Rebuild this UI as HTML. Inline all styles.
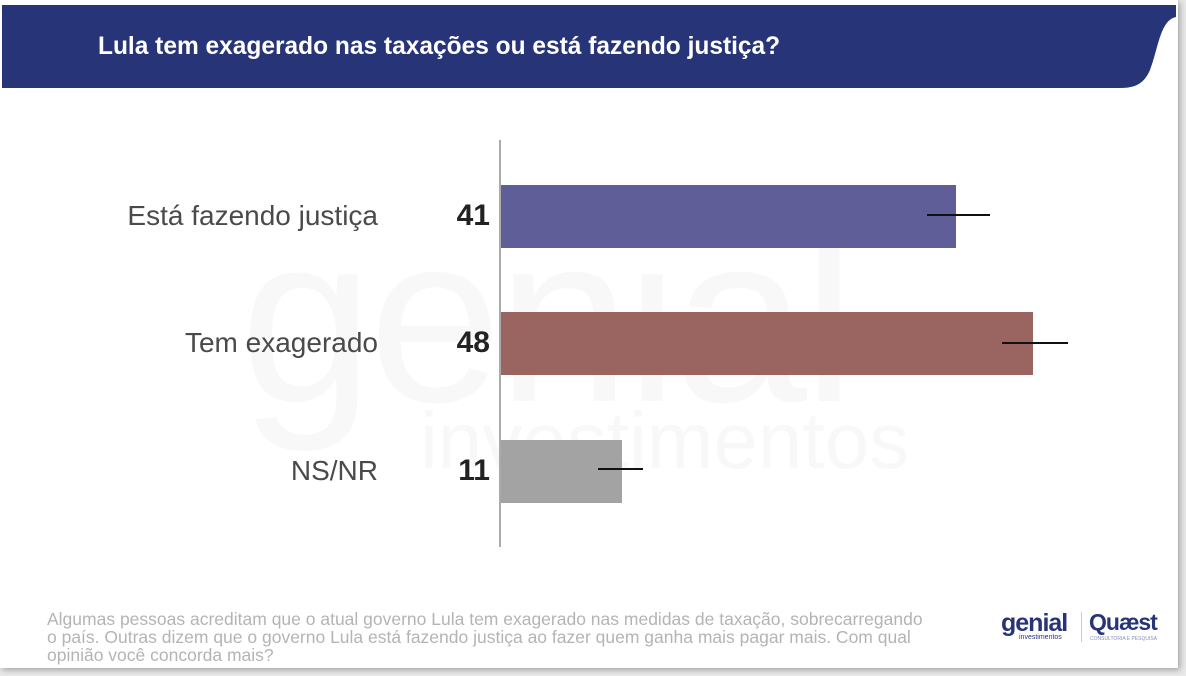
<!DOCTYPE html>
<html><head><meta charset="utf-8"><style>
body{margin:0;width:1186px;height:676px;background:#e9e9e9;position:relative;overflow:hidden;font-family:"Liberation Sans",sans-serif}
.page{position:absolute;left:0;top:0;width:1178px;height:668px;background:#fff;box-shadow:2px 2px 6px rgba(0,0,0,.3)}
.lab{position:absolute;font-size:28px;color:#4a4a4a;text-align:right;right:800px}
.val{position:absolute;font-size:30px;font-weight:bold;color:#222;right:688px}
.bar{position:absolute;left:501px;height:63px}
.eb{position:absolute;height:2px;background:#111}
</style></head><body>
<div class="page">
<svg width="1178" height="100" style="position:absolute;left:0;top:0">
<path d="M2 5 H1176 V17 C1160 20 1158 50 1150 70 C1144 84 1135 88 1120 88 H2 Z" fill="#273578"/>
</svg>
<div style="position:absolute;left:98px;top:32px;color:#fff;font-size:25px;font-weight:bold;transform:scaleX(0.98);transform-origin:left">Lula tem exagerado nas taxações ou está fazendo justiça?</div>
<div style="position:absolute;left:240px;top:180px;font-size:240px;color:#f8f8f8;letter-spacing:-5px">genial</div>
<div style="position:absolute;left:420px;top:395px;font-size:80px;color:#f8f8f8">investimentos</div>
<div style="position:absolute;left:499px;top:140px;width:2px;height:407px;background:#aaa"></div>
<div class="lab" style="top:200px">Está fazendo justiça</div>
<div class="lab" style="top:327px">Tem exagerado</div>
<div class="lab" style="top:455px">NS/NR</div>
<div class="val" style="top:199px">41</div>
<div class="val" style="top:326px">48</div>
<div class="val" style="top:454px">11</div>
<div class="bar" style="top:185px;width:455px;background:#5f5e99"></div>
<div class="bar" style="top:312px;width:532px;background:#9a6461"></div>
<div class="bar" style="top:440px;width:121px;background:#a3a3a3"></div>
<div class="eb" style="left:927px;width:63px;top:214px"></div>
<div class="eb" style="left:1002px;width:66px;top:342px"></div>
<div class="eb" style="left:598px;width:45px;top:468px"></div>
<div style="position:absolute;left:47px;top:610px;width:905px;font-size:17.5px;line-height:18px;color:#b4b4b4">Algumas pessoas acreditam que o atual governo Lula tem exagerado nas medidas de taxação, sobrecarregando<br>o país. Outras dizem que o governo Lula está fazendo justiça ao fazer quem ganha mais pagar mais. Com qual<br>opinião você concorda mais?</div>
<div style="position:absolute;left:1001px;top:609px;font-size:25px;color:#273578;font-weight:bold;letter-spacing:-1px">genial</div>
<div style="position:absolute;left:1019px;top:634px;font-size:7px;color:#273578">investimentos</div>
<div style="position:absolute;left:1081px;top:612px;width:1px;height:30px;background:#ccc"></div>
<div style="position:absolute;left:1089px;top:609px;font-size:23px;color:#273578;font-weight:bold;letter-spacing:-1px">Quæst</div>
<div style="position:absolute;left:1090px;top:636px;font-size:5px;color:#8890b8">CONSULTORIA E PESQUISA</div>
</div>
</body></html>
